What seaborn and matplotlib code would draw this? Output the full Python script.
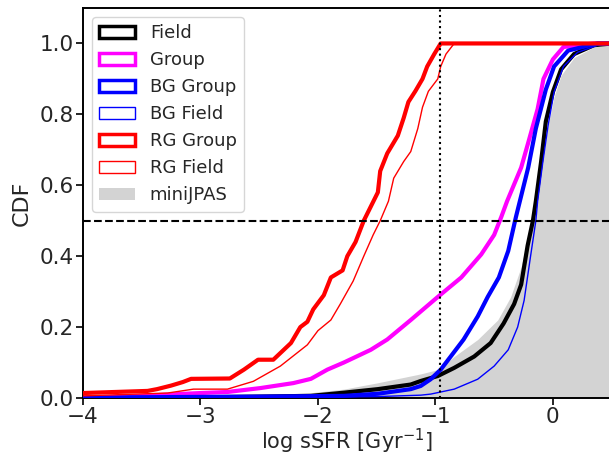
import matplotlib
matplotlib.use("Agg")
import matplotlib.pyplot as plt
from matplotlib.patches import Patch
import seaborn as sns

sns.set_style("ticks")
plt.rcParams["font.family"] = ["DejaVu Sans"]

# Cumulative distributions of log sSFR [Gyr^-1]
field_x = [-4.0, -3.0, -2.5, -2.06, -1.78, -1.49, -1.21, -1.125, -0.98, -0.84, -0.67, -0.53,
           -0.42, -0.33, -0.27, -0.215, -0.17, -0.145, -0.10, -0.06, 0.0, 0.07, 0.18, 0.35, 0.5]
field_y = [0.0, 0.002, 0.004, 0.006, 0.015, 0.025, 0.038, 0.048, 0.062, 0.085, 0.117, 0.155,
           0.21, 0.265, 0.32, 0.43, 0.5, 0.555, 0.667, 0.78, 0.863, 0.927, 0.97, 0.995, 1.0]

group_x = [-4.0, -3.57, -3.0, -2.77, -2.49, -2.21, -2.06, -1.92, -1.78, -1.55, -1.41, -1.21,
           -0.98, -0.78, -0.61, -0.50, -0.44, -0.39, -0.27, -0.21, -0.13, -0.08, 0.0, 0.09, 0.35, 0.5]
group_y = [0.0, 0.005, 0.014, 0.017, 0.028, 0.042, 0.054, 0.08, 0.10, 0.136, 0.165, 0.22,
           0.285, 0.34, 0.405, 0.46, 0.51, 0.555, 0.65, 0.72, 0.815, 0.90, 0.955, 0.99, 1.0, 1.0]

bg_group_x = [-4.0, -3.6, -2.5, -1.78, -1.49, -1.21, -1.125, -1.04, -0.955, -0.87, -0.76, -0.64,
              -0.555, -0.46, -0.38, -0.315, -0.21, -0.145, -0.06, 0.01, 0.13, 0.38, 0.5]
bg_group_y = [0.0, 0.002, 0.004, 0.006, 0.012, 0.025, 0.034, 0.053, 0.08, 0.117, 0.165, 0.23,
              0.285, 0.34, 0.415, 0.51, 0.65, 0.76, 0.87, 0.935, 0.98, 1.0, 1.0]

bg_field_x = [-4.0, -3.0, -2.0, -1.5, -1.125, -1.04, -0.84, -0.64, -0.50, -0.38, -0.30, -0.245,
              -0.19, -0.145, -0.13, -0.085, -0.04, 0.01, 0.09, 0.21, 0.41, 0.5]
bg_field_y = [0.0, 0.001, 0.002, 0.004, 0.008, 0.011, 0.025, 0.053, 0.09, 0.136, 0.20, 0.275,
              0.40, 0.50, 0.555, 0.667, 0.77, 0.863, 0.935, 0.975, 0.998, 1.0]

rg_group_x = [-4.0, -3.45, -3.37, -3.25, -3.15, -3.08, -2.75, -2.63, -2.51, -2.38, -2.23, -2.15,
              -2.09, -2.04, -1.95, -1.89, -1.79, -1.75, -1.68, -1.61, -1.55, -1.49, -1.47, -1.41,
              -1.32, -1.27, -1.23, -1.17, -1.11, -1.07, -1.01, -0.955, 0.5]
rg_group_y = [0.014, 0.02, 0.025, 0.035, 0.045, 0.054, 0.055, 0.08, 0.108, 0.108, 0.155, 0.20,
              0.215, 0.25, 0.29, 0.34, 0.36, 0.40, 0.44, 0.50, 0.54, 0.58, 0.64, 0.69,
              0.74, 0.79, 0.835, 0.866, 0.90, 0.935, 0.97, 1.0, 1.0]

rg_field_x = [-4.0, -3.28, -3.06, -2.77, -2.55, -2.32, -2.09, -2.0, -1.89, -1.81, -1.70, -1.61,
              -1.53, -1.47, -1.40, -1.355, -1.27, -1.21, -1.15, -1.11, -1.06, -0.98, -0.955,
              -0.91, -0.84, 0.5]
rg_field_y = [0.006, 0.014, 0.025, 0.025, 0.047, 0.09, 0.15, 0.19, 0.22, 0.265, 0.33, 0.40,
              0.46, 0.50, 0.555, 0.62, 0.667, 0.695, 0.76, 0.82, 0.865, 0.90, 0.935,
              0.97, 1.0, 1.0]

minijpas_x = [-4.0, -3.0, -2.5, -2.06, -1.78, -1.49, -1.125, -0.98, -0.84, -0.64, -0.47, -0.36,
              -0.27, -0.215, -0.16, -0.13, -0.085, -0.045, 0.01, 0.07, 0.18, 0.35, 0.5]
minijpas_y = [0.0, 0.004, 0.008, 0.015, 0.025, 0.043, 0.068, 0.08, 0.117, 0.165, 0.22, 0.285,
              0.37, 0.45, 0.5, 0.555, 0.667, 0.76, 0.85, 0.91, 0.96, 0.99, 0.997]

x_ticks = [-4, -3, -2, -1, 0]
y_ticks = [0.0, 0.2, 0.4, 0.6, 0.8, 1.0]
ssfr_cut = -0.96
cdf_half = 0.5

fig = plt.figure(figsize=(6.09, 4.57), dpi=100)
ax = fig.add_axes([0.1363, 0.1291, 0.8680, 0.8534])

ax.fill_between(minijpas_x, 0, minijpas_y, color="lightgray", lw=0, zorder=1)

curves = [
    (field_x, field_y, "black", 3.0),
    (group_x, group_y, "magenta", 3.0),
    (bg_group_x, bg_group_y, "blue", 3.0),
    (bg_field_x, bg_field_y, "blue", 1.0),
    (rg_group_x, rg_group_y, "red", 3.0),
    (rg_field_x, rg_field_y, "red", 1.0),
]
for i, (xs, ys, col, lw) in enumerate(curves):
    sns.lineplot(x=xs, y=ys, ax=ax, color=col, lw=lw, sort=False,
                 estimator=None, legend=False, zorder=2 + i)

ax.axhline(cdf_half, color="black", ls="--", lw=1.5, zorder=10)
ax.axvline(ssfr_cut, color="black", ls=":", lw=1.5, zorder=10)

ax.set_xlim(-4, 0.5)
ax.set_ylim(0, 1.1)
ax.set_xticks(x_ticks)
ax.set_yticks(y_ticks)
ax.set_yticklabels([f"{v:.1f}" for v in y_ticks])
ax.tick_params(labelsize=15.5, direction="out", length=5, width=1.2, color="black", pad=1.5)
ax.set_xlabel("log sSFR [Gyr$^{-1}$]", fontsize=15, labelpad=0)
ax.set_ylabel("CDF", fontsize=16, labelpad=6)
for s in ax.spines.values():
    s.set_linewidth(1.4)
    s.set_color("black")

handles = [
    Patch(facecolor="none", edgecolor="black", lw=2.5, label="Field"),
    Patch(facecolor="none", edgecolor="magenta", lw=2.5, label="Group"),
    Patch(facecolor="none", edgecolor="blue", lw=2.5, label="BG Group"),
    Patch(facecolor="none", edgecolor="blue", lw=1.0, label="BG Field"),
    Patch(facecolor="none", edgecolor="red", lw=2.5, label="RG Group"),
    Patch(facecolor="none", edgecolor="red", lw=1.0, label="RG Field"),
    Patch(facecolor="lightgray", edgecolor="none", label="miniJPAS"),
]
ax.legend(handles=handles, loc="upper left", fontsize=13, labelspacing=0.5,
          frameon=True, fancybox=True, framealpha=0.8, edgecolor="0.8")

fig.savefig("out.png", dpi=100)
